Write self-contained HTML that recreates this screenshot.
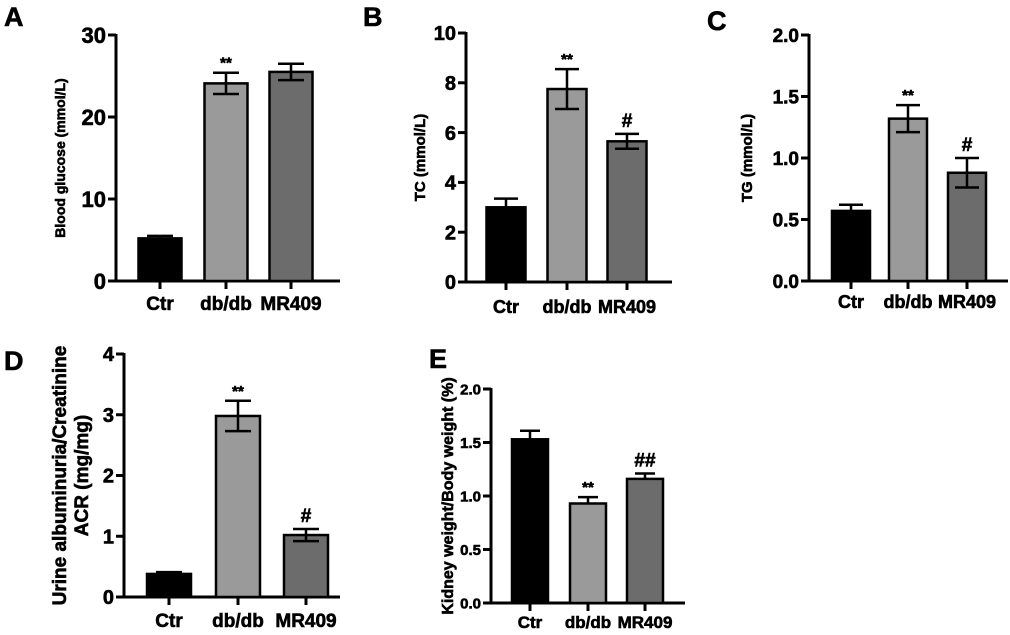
<!DOCTYPE html>
<html><head><meta charset="utf-8"><style>
body{margin:0;background:#fff;}
svg{display:block;font-family:"Liberation Sans",Arial,sans-serif;font-weight:bold;}
svg text{stroke:#000;stroke-width:0.6px;}
</style></head><body>
<svg id="fig" width="1010" height="635" viewBox="0 0 1010 635" xmlns="http://www.w3.org/2000/svg"></svg>
<script>
const categories = ["Ctr","db/db","MR409"];
const glucoseValues = [5.2, 24.1, 25.5];
const glucoseErrors = [0.3, 1.3, 1.0];
const glucoseTicks = [0,10,20,30];
const tcValues = [3.0, 7.75, 5.65];
const tcErrors = [0.35, 0.8, 0.3];
const tcTicks = [0,2,4,6,8,10];
const tgValues = [0.57, 1.32, 0.88];
const tgErrors = [0.05, 0.11, 0.12];
const tgTicks = [0.0,0.5,1.0,1.5,2.0];
const acrValues = [0.38, 2.98, 1.02];
const acrErrors = [0.03, 0.25, 0.1];
const acrTicks = [0,1,2,3,4];
const kidneyValues = [1.53, 0.93, 1.16];
const kidneyErrors = [0.08, 0.06, 0.05];
const kidneyTicks = [0.0,0.5,1.0,1.5,2.0];
const sigA = ["","**",""], sigB = ["","**","#"], sigC = ["","**","#"], sigD = ["","**","#"], sigE = ["","**","##"];

const NS="http://www.w3.org/2000/svg";
const svg=document.getElementById('fig');
function mk(tag,attrs,parent){const e=document.createElementNS(NS,tag);for(const k in attrs)e.setAttribute(k,attrs[k]);(parent||svg).appendChild(e);return e;}
const fills=["#000","#9a9a9a","#6c6c6c"];

function panel(p){
  const g=mk('g',{});
  
  
  const max=p.ticks[p.ticks.length-1];
  const y=v=>p.y0-(v/max)*(p.y0-p.y1);
  const lt=mk('text',{x:p.lx,y:p.ly,'font-size':27,fill:'#000'},g);lt.textContent=p.id;
  
  
  const ya=mk('line',{x1:p.ax,y1:p.y1-1,x2:p.ax,y2:p.y0+1,stroke:'#000','stroke-width':3},g);
  
  
  const xa=mk('line',{x1:p.ax-1,y1:p.y0,x2:p.axEnd,y2:p.y0,stroke:'#000','stroke-width':3},g);
  
  
  p.ticks.forEach(t=>{
    mk('line',{x1:p.ax-8,y1:y(t),x2:p.ax,y2:y(t),stroke:'#000','stroke-width':3},g);
    const tx=mk('text',{x:p.ax-10,y:y(t)+p.tfs*0.36,'font-size':p.tfs,'text-anchor':'end',fill:'#000'},g);
    tx.textContent=p.fmt(t);
    
    
  });
  categories.forEach((c,i)=>{
    const cx=p.cx[i], v=p.vals[i], e=p.errs[i], hw=p.bw/2;
    const r=mk('rect',{x:cx-hw,y:y(v),width:p.bw,height:p.y0-y(v),fill:fills[i],stroke:'#000','stroke-width':2.5},g);
    
    
    const top=y(v+e), bot=p.upOnly?y(v):y(v-e);
    const eb=mk('path',{d:`M${cx},${top}V${bot}M${cx-p.cap},${top}H${cx+p.cap}`+(p.upOnly?'':`M${cx-p.cap},${bot}H${cx+p.cap}`),stroke:'#000','stroke-width':2.5,fill:'none'},g);
    
    
    mk('line',{x1:cx,y1:p.y0,x2:cx,y2:p.y0+8,stroke:'#000','stroke-width':3},g);
    const xl=mk('text',{x:cx,y:p.y0+p.xlo,'font-size':p.xfs,'text-anchor':'middle',fill:'#000'},g);
    xl.textContent=c;
    
    
    if(p.sig[i]){
      const s=mk('text',{x:cx,y:top-(p.sig[i][0]=='*'?5:7),'font-size':p.sig[i][0]=='*'?15:19,'text-anchor':'middle',fill:'#000'},g);
      s.textContent=p.sig[i];
      
      
    }
  });
  p.ylab.forEach((t,k)=>{
    const yl=mk('text',{x:0,y:0,'font-size':p.yfs,'text-anchor':'middle',fill:'#000',transform:`translate(${p.ylx[k]},${(p.y0+p.y1)/2}) rotate(-90)`},g);
    yl.textContent=t;
    
    
  });
}
const f0=t=>String(t), f1=t=>t.toFixed(1);
panel({id:'A',lx:4,ly:26,ax:116,axEnd:340,y0:281,y1:35,ticks:glucoseTicks,fmt:f0,tfs:22,vals:glucoseValues,errs:glucoseErrors,cx:[160,226,291],bw:43,cap:13,sig:sigA,xlo:29,xfs:19,ylab:['Blood glucose (mmol/L)'],ylx:[65],yfs:14});
panel({id:'B',lx:363,ly:26,ax:466,axEnd:672,y0:282,y1:33,ticks:tcTicks,fmt:f0,tfs:20,vals:tcValues,errs:tcErrors,cx:[506,567,627],bw:39,cap:12,sig:sigB,xlo:31,xfs:18,ylab:['TC (mmol/L)'],ylx:[425],yfs:15});
panel({id:'C',lx:707,ly:30,ax:809,axEnd:1008,y0:281,y1:35,ticks:tgTicks,fmt:f1,tfs:19,vals:tgValues,errs:tgErrors,cx:[851,908,967],bw:38,cap:12,sig:sigC,xlo:27,xfs:18,ylab:['TG (mmol/L)'],ylx:[752],yfs:15});
panel({id:'D',lx:4,ly:370,ax:124,axEnd:340,y0:597,y1:354,ticks:acrTicks,fmt:f0,tfs:20,vals:acrValues,errs:acrErrors,cx:[169,238,306],bw:44,cap:13,sig:sigD,xlo:30,xfs:19,ylab:['Urine albuminuria/Creatinine','ACR (mg/mg)'],ylx:[66,88],yfs:19});
panel({id:'E',lx:429,ly:368,ax:491,axEnd:685,y0:603,y1:389,ticks:kidneyTicks,fmt:f1,tfs:15,vals:kidneyValues,errs:kidneyErrors,cx:[530,588,645],bw:36,cap:10,sig:sigE,xlo:25,xfs:17,ylab:['Kidney weight/Body weight (%)'],ylx:[453],yfs:16,upOnly:true});
</script>
</body></html>
